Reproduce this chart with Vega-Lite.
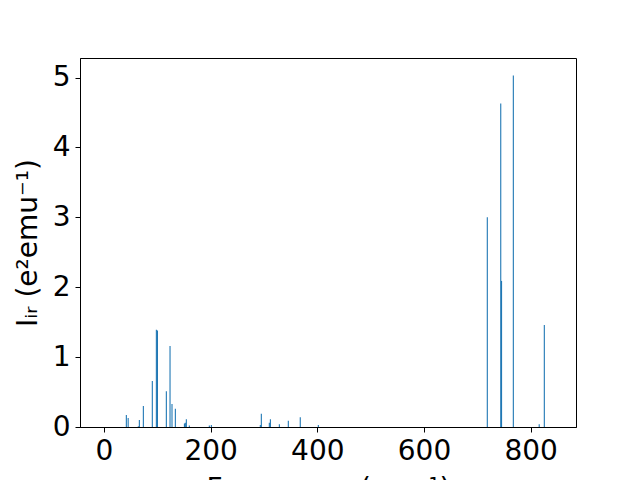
{
  "$schema": "https://vega.github.io/schema/vega-lite/v6.json",
  "width": 496,
  "height": 369,
  "autosize": {"type": "none"},
  "padding": {"left": 80, "top": 58, "right": 64, "bottom": 53},
  "background": "white",
  "config": {
    "view": {"stroke": "black", "strokeWidth": 1},
    "font": "DejaVu Sans",
    "axis": {
      "grid": false,
      "domainColor": "black",
      "tickColor": "black",
      "tickSize": 5,
      "labelFont": "DejaVu Sans",
      "labelFontSize": 28,
      "labelColor": "black",
      "titleFont": "DejaVu Sans",
      "titleFontSize": 28,
      "titleFontWeight": "normal",
      "titleColor": "black",
      "labelPadding": 5
    }
  },
  "data": {
    "values": [
      {"freq": 41.9, "ir": 0.17}, {"freq": 45.3, "ir": 0.13}, {"freq": 64.4, "ir": 0.01},
      {"freq": 66.3, "ir": 0.10}, {"freq": 73.8, "ir": 0.30}, {"freq": 90.6, "ir": 0.66},
      {"freq": 98.2, "ir": 1.39}, {"freq": 100.2, "ir": 1.38}, {"freq": 116.9, "ir": 0.51},
      {"freq": 123.8, "ir": 1.16}, {"freq": 127.5, "ir": 0.33}, {"freq": 133.8, "ir": 0.26},
      {"freq": 150.8, "ir": 0.05}, {"freq": 152.5, "ir": 0.06}, {"freq": 154.4, "ir": 0.11},
      {"freq": 160.0, "ir": 0.02}, {"freq": 197.5, "ir": 0.02}, {"freq": 201.3, "ir": 0.03},
      {"freq": 293.1, "ir": 0.03}, {"freq": 295.0, "ir": 0.19}, {"freq": 310.0, "ir": 0.06},
      {"freq": 312.0, "ir": 0.11}, {"freq": 328.8, "ir": 0.04}, {"freq": 345.6, "ir": 0.09},
      {"freq": 368.0, "ir": 0.14}, {"freq": 401.9, "ir": 0.03}, {"freq": 718.7, "ir": 3.00},
      {"freq": 743.9, "ir": 4.63}, {"freq": 745.4, "ir": 2.09}, {"freq": 767.5, "ir": 5.03},
      {"freq": 816.0, "ir": 0.04}, {"freq": 825.6, "ir": 1.46}
    ]
  },
  "mark": {"type": "bar", "color": "#1f77b4", "width": 1.1},
  "encoding": {
    "x": {
      "field": "freq", "type": "quantitative",
      "scale": {"domain": [-45, 885], "nice": false, "zero": false, "padding": 0},
      "axis": {"values": [0, 200, 400, 600, 800], "title": "Frequency (cm⁻¹)", "titlePadding": 10}
    },
    "y": {
      "field": "ir", "type": "quantitative",
      "scale": {"domain": [0, 5.28], "nice": false},
      "axis": {"values": [0, 1, 2, 3, 4, 5], "title": "Iᵢᵣ (e²emu⁻¹)", "titlePadding": 10}
    }
  }
}
